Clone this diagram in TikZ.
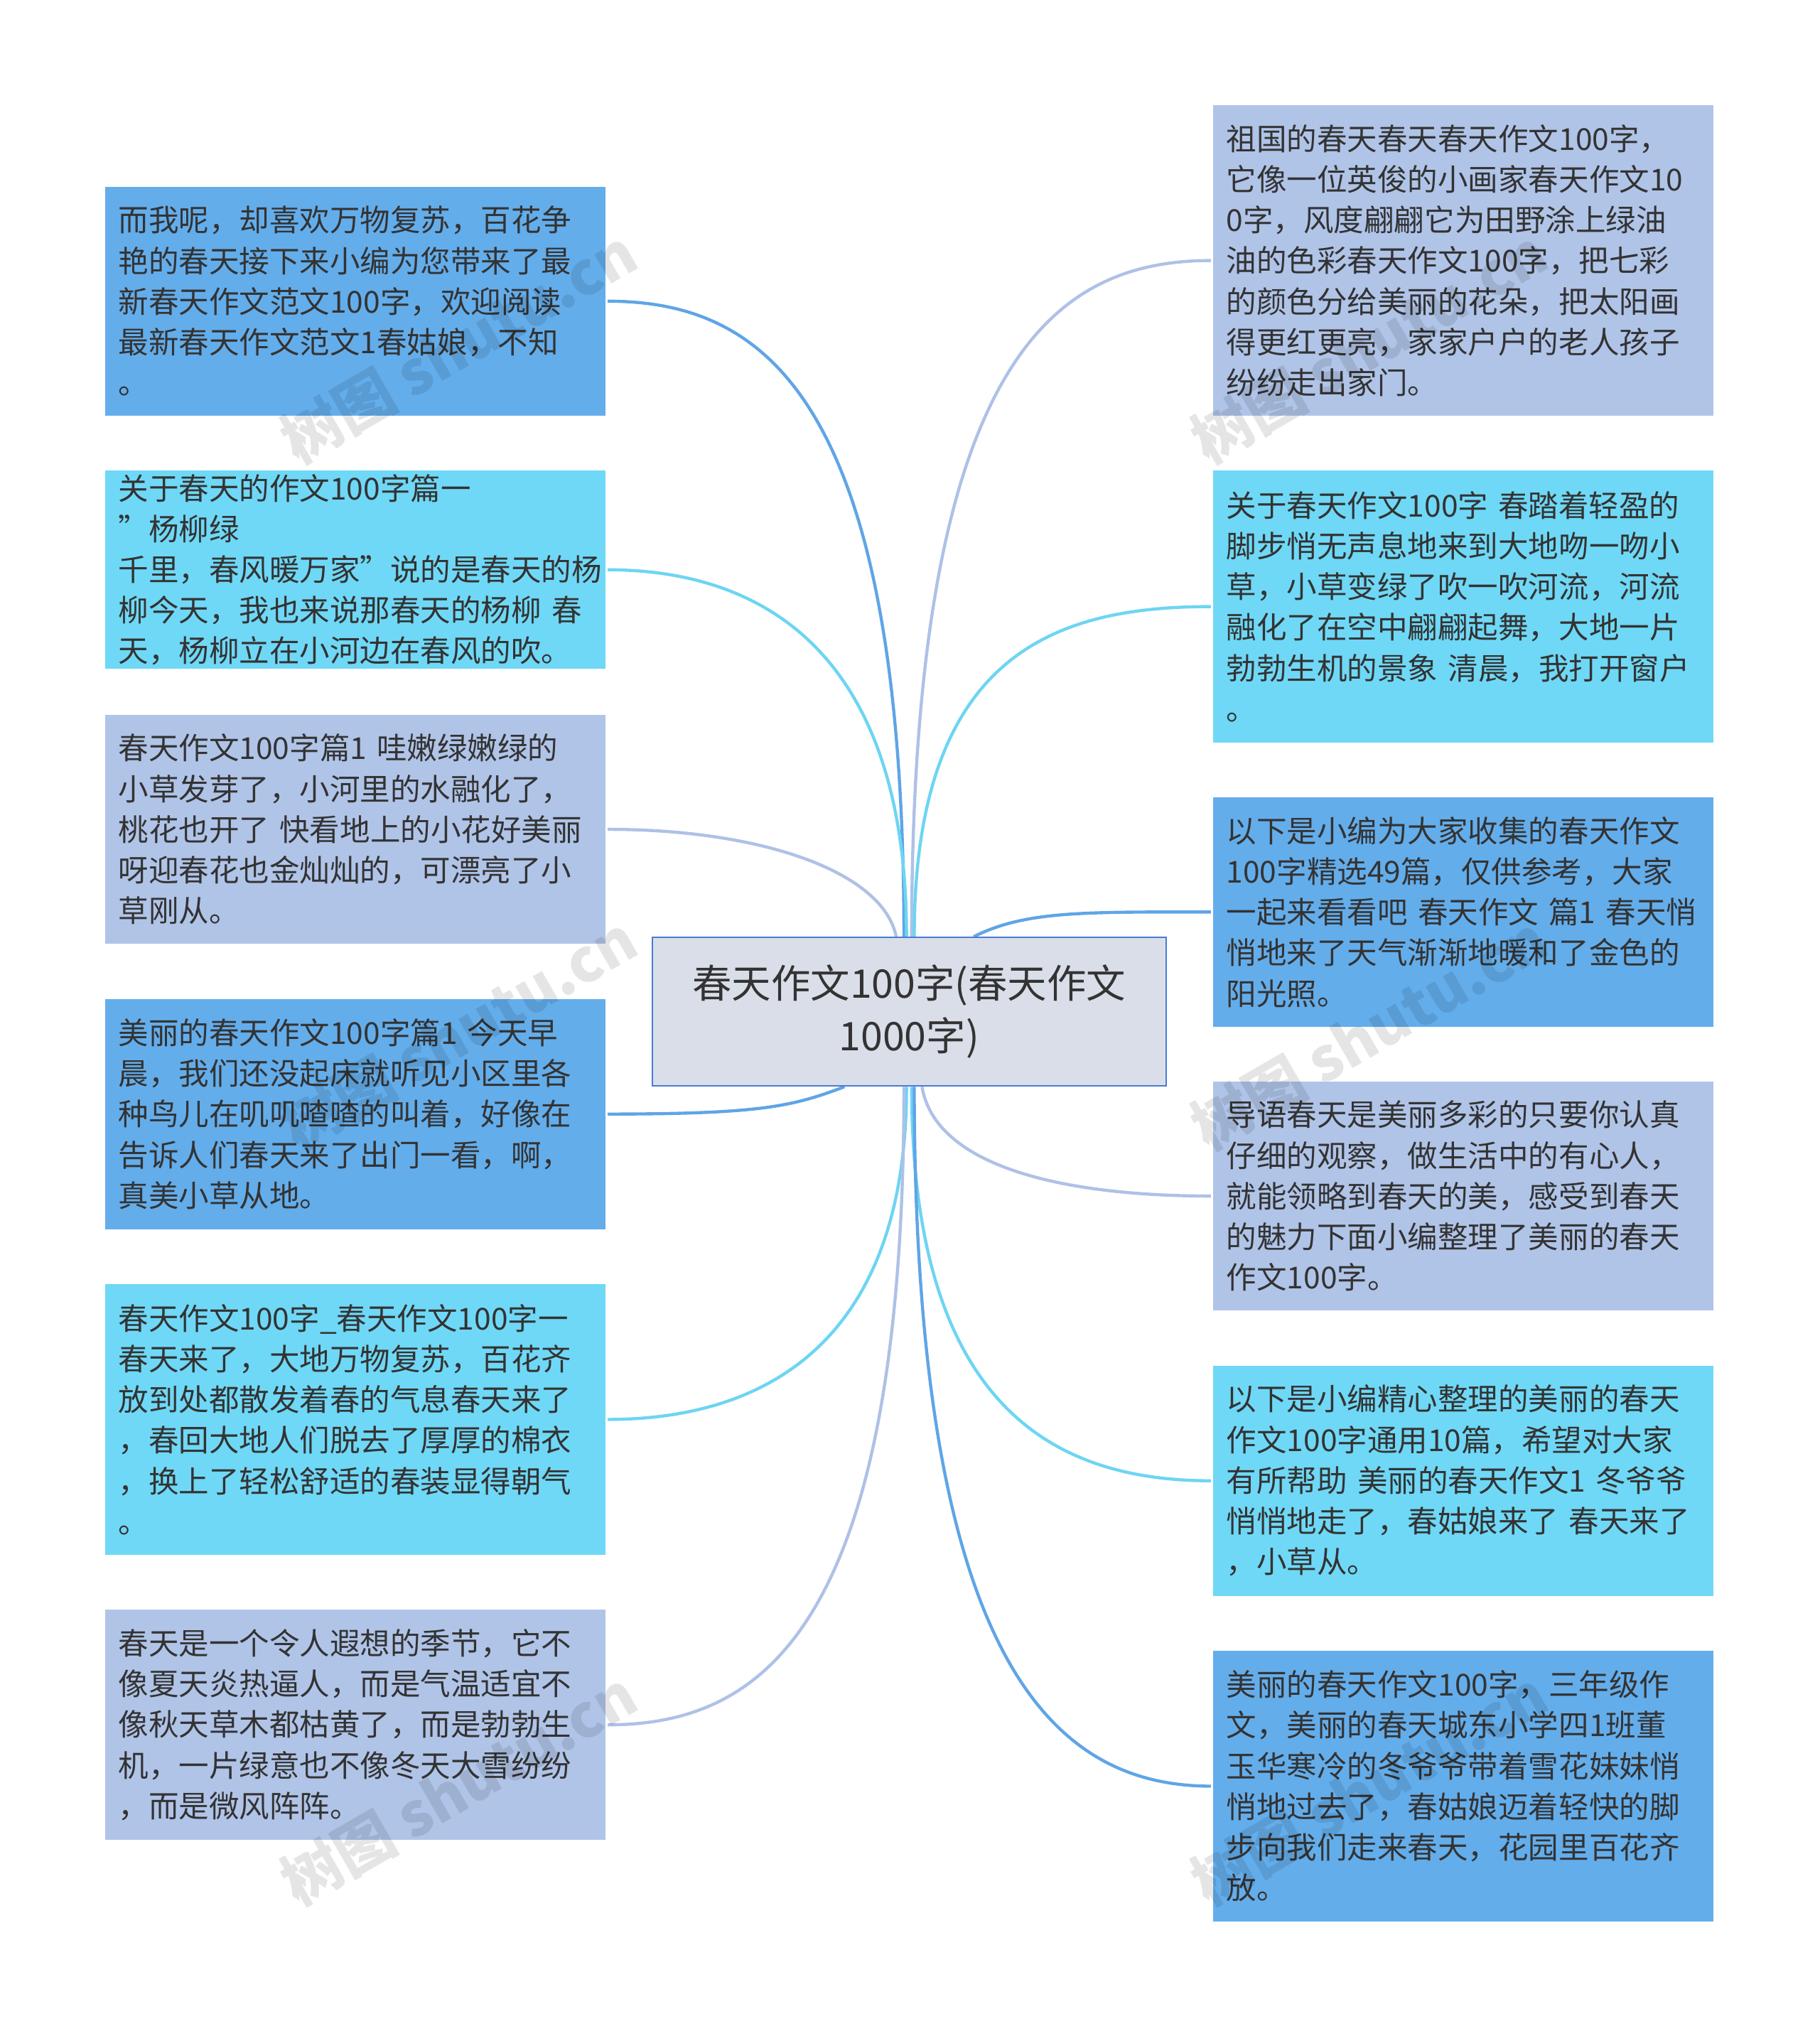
\documentclass[tikz,border=0pt]{standalone}
\usepackage{fontspec}
\setmainfont{Noto Sans CJK SC}
\usetikzlibrary{positioning,backgrounds}
\definecolor{cblue}{HTML}{64ADEB}
\definecolor{ccyan}{HTML}{6FD8F6}
\definecolor{cgrey}{HTML}{B0C4E8}
\definecolor{lblue}{HTML}{5FA5E6}
\definecolor{lcyan}{HTML}{6DD5F2}
\definecolor{lgrey}{HTML}{AEC1E6}
\definecolor{cfill}{HTML}{D9DEE8}
\definecolor{cedge}{HTML}{4A7BD6}
\tikzset{
  leaf/.style={anchor=north west, minimum width=389pt, text width=367pt, inner xsep=11pt, align=left,
    font=\fontsize{23.4}{31.5}\selectfont, text=black!80, draw=white, line width=1.5pt},
  root/.style={fill=cfill, draw=cedge, line width=1.2pt, minimum width=398pt, minimum height=115pt,
    align=center, font=\fontsize{30.5}{41}\selectfont, text=black!80},
  link/.style={line width=2.4pt},
  wmark/.style={text=black, opacity=0.1, rotate=30, font=\fontsize{46}{46}\selectfont\bfseries}
}
\begin{document}
\begin{tikzpicture}[x=1pt,y=-1pt]
\useasboundingbox (0,0) rectangle (1409,1569);
% center
\node[root] (c) at (704,783.5) {春天作文100字(春天作文\\1000字)};
% left side
\node[leaf, fill=cblue, minimum height=179pt] (l1) at (80,143) {而我呢，却喜欢万物复苏，百花争\\艳的春天接下来小编为您带来了最\\新春天作文范文100字，欢迎阅读\\最新春天作文范文1春姑娘，不知\\。};
\node[leaf, fill=ccyan, minimum height=148pt] (l2) at (80,363) {关于春天的作文100字篇一 "杨柳绿\\千里，春风暖万家"说的是春天的杨\\柳今天，我也来说那春天的杨柳 春\\天，杨柳立在小河边在春风的吹。};
\node[leaf, fill=cgrey, minimum height=179pt] (l3) at (80,552) {春天作文100字篇1 哇嫩绿嫩绿的\\小草发芽了，小河里的水融化了，\\桃花也开了 快看地上的小花好美丽\\呀迎春花也金灿灿的，可漂亮了小\\草刚从。};
\node[leaf, fill=cblue, minimum height=180pt] (l4) at (80,772) {美丽的春天作文100字篇1 今天早\\晨，我们还没起床就听见小区里各\\种鸟儿在叽叽喳喳的叫着，好像在\\告诉人们春天来了出门一看，啊，\\真美小草从地。};
\node[leaf, fill=ccyan, minimum height=211pt] (l5) at (80,993) {春天作文100字\_春天作文100字一\\春天来了，大地万物复苏，百花齐\\放到处都散发着春的气息春天来了\\，春回大地人们脱去了厚厚的棉衣\\，换上了轻松舒适的春装显得朝气\\。};
\node[leaf, fill=cgrey, minimum height=180pt] (l6) at (80,1245) {春天是一个令人遐想的季节，它不\\像夏天炎热逼人，而是气温适宜不\\像秋天草木都枯黄了，而是勃勃生\\机，一片绿意也不像冬天大雪纷纷\\，而是微风阵阵。};
% right side
\node[leaf, fill=cgrey, minimum height=242pt] (r1) at (938,80) {祖国的春天春天春天作文100字，\\它像一位英俊的小画家春天作文10\\0字，风度翩翩它为田野涂上绿油\\油的色彩春天作文100字，把七彩\\的颜色分给美丽的花朵，把太阳画\\得更红更亮，家家户户的老人孩子\\纷纷走出家门。};
\node[leaf, fill=ccyan, minimum height=212pt] (r2) at (938,363) {关于春天作文100字 春踏着轻盈的\\脚步悄无声息地来到大地吻一吻小\\草，小草变绿了吹一吹河流，河流\\融化了在空中翩翩起舞，大地一片\\勃勃生机的景象 清晨，我打开窗户\\。};
\node[leaf, fill=cblue, minimum height=179pt] (r3) at (938,616) {以下是小编为大家收集的春天作文\\100字精选49篇，仅供参考，大家\\一起来看看吧 春天作文 篇1 春天悄\\悄地来了天气渐渐地暖和了金色的\\阳光照。};
\node[leaf, fill=cgrey, minimum height=179pt] (r4) at (938,836) {导语春天是美丽多彩的只要你认真\\仔细的观察，做生活中的有心人，\\就能领略到春天的美，感受到春天\\的魅力下面小编整理了美丽的春天\\作文100字。};
\node[leaf, fill=ccyan, minimum height=180pt] (r5) at (938,1056) {以下是小编精心整理的美丽的春天\\作文100字通用10篇，希望对大家\\有所帮助 美丽的春天作文1 冬爷爷\\悄悄地走了，春姑娘来了 春天来了\\，小草从。};
\node[leaf, fill=cblue, minimum height=211pt] (r6) at (938,1277) {美丽的春天作文100字，三年级作\\文，美丽的春天城东小学四1班董\\玉华寒冷的冬爷爷带着雪花妹妹悄\\悄地过去了，春姑娘迈着轻快的脚\\步向我们走来春天，花园里百花齐\\放。};
% links
\begin{scope}[on background layer]
\draw[link, lblue] ([xshift=-4pt]c.north) .. controls +(0,-420) and +(120,0) .. (l1.east);
\draw[link, lcyan] ([xshift=-2pt]c.north) .. controls +(0,-220) and +(120,0) .. (l2.east);
\draw[link, lgrey] ([xshift=-10pt]c.north) .. controls +(-10,-50) and +(120,0) .. (l3.east);
\draw[link, lblue] ([xshift=-50pt]c.south) .. controls +(-40,15) and +(120,0) .. (l4.east);
\draw[link, lcyan] ([xshift=-2pt]c.south) .. controls +(0,200) and +(120,0) .. (l5.east);
\draw[link, lgrey] ([xshift=-4pt]c.south) .. controls +(0,420) and +(120,0) .. (l6.east);
\draw[link, lgrey] ([xshift=2pt]c.north) .. controls +(0,-450) and +(-120,0) .. (r1.west);
\draw[link, lcyan] ([xshift=4pt]c.north) .. controls +(0,-220) and +(-120,0) .. (r2.west);
\draw[link, lblue] ([xshift=50pt]c.north) .. controls +(40,-20) and +(-100,0) .. (r3.west);
\draw[link, lgrey] ([xshift=10pt]c.south) .. controls +(10,60) and +(-120,0) .. (r4.west);
\draw[link, lcyan] ([xshift=2pt]c.south) .. controls +(0,250) and +(-120,0) .. (r5.west);
\draw[link, lblue] ([xshift=4pt]c.south) .. controls +(0,450) and +(-120,0) .. (r6.west);
\end{scope}
% watermarks
\foreach \wx/\wy in {355/268, 355/800, 355/1385, 1060/268, 1060/800, 1060/1385}
  \node[wmark] at (\wx,\wy) {树图 shutu.cn};
\end{tikzpicture}
\end{document}
